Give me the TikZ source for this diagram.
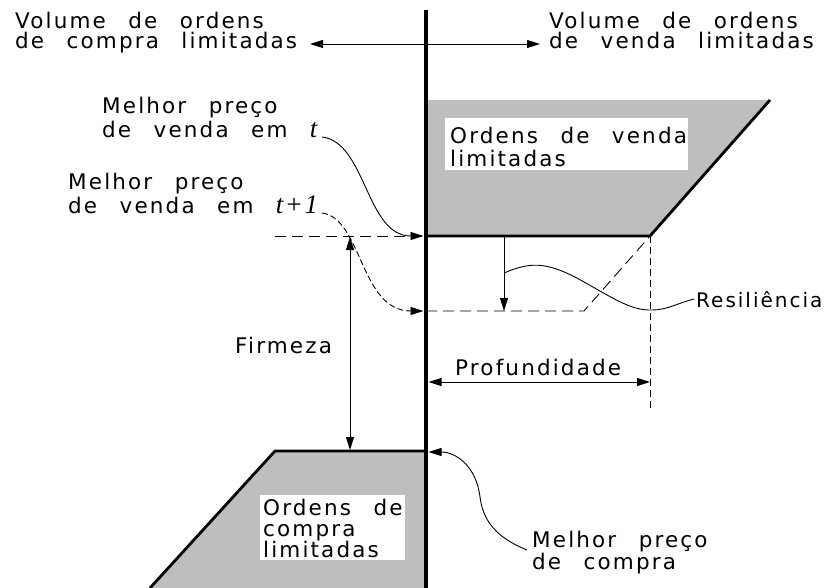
\documentclass[tikz,border=0pt]{standalone}
\usepackage{fontspec}
\setmainfont{DejaVu Sans}[LetterSpace=10,WordSpace=2.5]
\newfontfamily\itfont{Liberation Serif}[Scale=1.25,LetterSpace=6]
\usetikzlibrary{arrows.meta}
\definecolor{bookgray}{RGB}{190,190,190}
\begin{document}
\begin{tikzpicture}[x=1pt,y=-1pt,
  lbl/.style={inner sep=0pt,anchor=north west,align=left},
  lblone/.style={inner sep=0pt,anchor=base west},
  fine/.style={line width=0.9pt},
  heavy/.style={line width=2.8pt},
  axisline/.style={line width=4.5pt},
  tipend/.style={-{Triangle[length=13pt,width=8pt]}},
  tipboth/.style={{Triangle[length=13pt,width=8pt]}-{Triangle[length=13pt,width=8pt]}},
  dsh/.style={dash pattern=on 11pt off 6pt},
  dshs/.style={dash pattern=on 7pt off 4pt},
  dshc/.style={dash pattern=on 6pt off 3pt},
  box/.style={fill=white,inner sep=0pt,anchor=north west},
  font=\fontsize{21.5}{24}\selectfont]
\useasboundingbox (0,0) rectangle (834,588);

% key points
\coordinate (axTop) at (426,10);
\coordinate (axBot) at (426,588);
\coordinate (sellTop) at (770,100);
\coordinate (sellCorner) at (650,236);
\coordinate (sellEdge) at (426,236);
\coordinate (buyEdge) at (426,451);
\coordinate (buyCorner) at (275,451);
\coordinate (buyFoot) at (150,588);
\coordinate (bestSell) at (423.5,236);
\coordinate (bestSellOne) at (423.5,311);
\coordinate (bestBuy) at (428.5,452);
\coordinate (volBuy) at (310,44);
\coordinate (volSell) at (540,44);
\coordinate (dashL) at (275,236);
\coordinate (newLineStart) at (426,311);
\coordinate (newCorner) at (584,311);
\coordinate (depthFoot) at (650,410);
\coordinate (depthL) at (428.5,382);
\coordinate (depthR) at (650,382);
\coordinate (firmTop) at (350,237);
\coordinate (firmBot) at (350,450);
\coordinate (resTop) at (504,237);
\coordinate (resBot) at (504,311);
\coordinate (resStart) at (504,273);
\coordinate (bsTstart) at (322,137);
\coordinate (bsTOnestart) at (322,213);
\coordinate (bbStart) at (527,550);

% shaded regions
\fill[bookgray] (428,100) -- (sellTop) -- (sellCorner) -- (428,236) -- cycle;
\fill[bookgray] (buyCorner) -- (buyEdge) -- (axBot) -- (buyFoot) -- cycle;

% label boxes
\node[box,minimum width=243pt,minimum height=52pt] (sellBox) at (445,118) {};
\node[lbl,font=\fontsize{21.5}{23}\selectfont] (sellTxt) at (450,127) {Ordens de venda\\limitadas};
\node[box,minimum width=145pt,minimum height=65pt] (buyBox) at (260,495) {};
\node[lbl,font=\fontsize{21.5}{21}\selectfont] (buyTxt) at (263,499) {Ordens de\\compra\\limitadas};

% book edges
\draw[heavy] (sellEdge) -- (sellCorner) -- (sellTop);
\draw[heavy] (buyEdge) -- (buyCorner) -- (buyFoot);

% axis
\draw[axisline] (axTop) -- (axBot);

% volume arrow and labels
\draw[fine,tipboth] (volBuy) -- (volSell);
\node[lbl,font=\fontsize{21.5}{20}\selectfont] (volBuyTxt) at (15,12) {Volume de ordens\\de compra limitadas};
\node[lbl,font=\fontsize{21.5}{20}\selectfont] (volSellTxt) at (549,12) {Volume de ordens\\de venda limitadas};

% best ask labels
\node[lbl] (bsT) at (102,97) {Melhor preço\\de venda em {\itfont\itshape t}};
\node[lbl] (bsTOne) at (68,173) {Melhor preço\\de venda em {\itfont\itshape t+1}};
\draw[fine,tipend] (bsTstart) .. controls (366,142) and (366,236) .. (bestSell);
\draw[fine,dshc,tipend] (bsTOnestart) .. controls (362,218) and (360,311) .. (bestSellOne);

% price lines
\draw[fine,dsh] (dashL) -- (bestSell);
\draw[fine,dsh] (newLineStart) -- (newCorner) -- (sellCorner);
\draw[fine,dshs] (sellCorner) -- (depthFoot);

% firmeza
\draw[fine,tipboth] (firmTop) -- (firmBot);
\node[lblone] (firmTxt) at (235,353) {Firmeza};

% resiliencia
\draw[fine,tipend] (resTop) -- (resBot);
\node[lblone,font=\fontsize{20}{24}\selectfont] (resTxt) at (696,307) {Resiliência};
\draw[fine] (resStart) .. controls (530,262) and (545,262) .. (575,277)
  .. controls (610,296) and (630,311) .. (652,310)
  .. controls (668,310) and (680,302) .. ([xshift=-2pt]resTxt.west);

% profundidade
\draw[fine,tipboth] (depthL) -- (depthR);
\node[lblone] (depthTxt) at (455,375) {Profundidade};

% best bid
\node[lbl,font=\fontsize{21.5}{20}\selectfont] (bbTxt) at (532,531) {Melhor preço\\de compra};
\draw[fine,tipend] (bbStart) .. controls (495,537) and (483,520) .. (480,497)
  .. controls (476,465) and (455,452) .. (bestBuy);
\end{tikzpicture}
\end{document}
